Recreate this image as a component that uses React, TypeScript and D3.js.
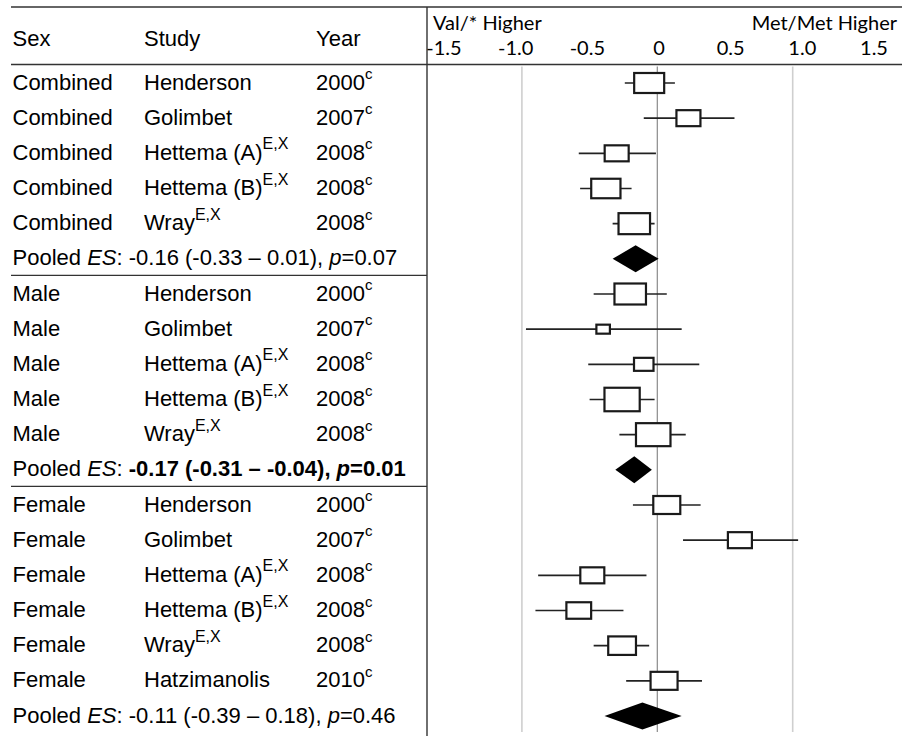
import React from 'react';
import * as d3 from 'd3';

// ---- data ----
const groupNames = ['Combined', 'Male', 'Female'];
const groupSizes = [5, 5, 6];

const rowStudy = [
  'Henderson', 'Golimbet', 'Hettema (A)', 'Hettema (B)', 'Wray',
  'Henderson', 'Golimbet', 'Hettema (A)', 'Hettema (B)', 'Wray',
  'Henderson', 'Golimbet', 'Hettema (A)', 'Hettema (B)', 'Wray', 'Hatzimanolis',
];
const rowStudySup = [
  '', '', 'E,X', 'E,X', 'E,X',
  '', '', 'E,X', 'E,X', 'E,X',
  '', '', 'E,X', 'E,X', 'E,X', '',
];
const rowYear = [
  '2000', '2007', '2008', '2008', '2008',
  '2000', '2007', '2008', '2008', '2008',
  '2000', '2007', '2008', '2008', '2008', '2010',
];
const rowYearSup = 'c';
const rowES = [
  -0.06, 0.23, -0.30, -0.38, -0.17,
  -0.20, -0.40, -0.10, -0.26, -0.03,
  0.07, 0.61, -0.48, -0.58, -0.26, 0.05,
];
const rowLo = [
  -0.24, -0.10, -0.58, -0.57, -0.33,
  -0.47, -0.97, -0.51, -0.50, -0.28,
  -0.18, 0.19, -0.88, -0.90, -0.47, -0.23,
];
const rowHi = [
  0.13, 0.57, -0.01, -0.19, -0.02,
  0.07, 0.18, 0.31, -0.02, 0.21,
  0.32, 1.04, -0.08, -0.25, -0.06, 0.33,
];
const rowWeight = [
  20, 16, 16, 19.5, 21,
  21, 9, 13, 23.5, 23,
  18, 16, 16, 16.5, 18.5, 18,
];

const pooledES = [-0.16, -0.17, -0.11];
const pooledLo = [-0.33, -0.31, -0.39];
const pooledHi = [0.01, -0.04, 0.18];
const pooledP = [0.07, 0.01, 0.46];
const pooledSig = [false, true, false];

const tickValues = [-1.5, -1.0, -0.5, 0, 0.5, 1.0, 1.5];
const gridValues = [-1, 1];
const leftLabel = 'Val/* Higher';
const rightLabel = 'Met/Met Higher';
const headers = ['Sex', 'Study', 'Year'];

// ---- layout ----
const W = 902;
const H = 736;
const FONT = "'Liberation Sans', Arial, sans-serif";
const AXFONT = 'Lato, sans-serif';
const tableLeft = 11;
const border = 427;
const colX = [12.5, 144, 316];
const topLine = 7;
const headLine = 64.5;

const fmt = (v: number) => (v < 0 ? '-' : '') + Math.abs(v).toFixed(2);
const tickFmt = (v: number) => (v === 0 ? '0' : (v < 0 ? '-' : '') + Math.abs(v).toFixed(1));

export default function App() {
  const x = d3.scaleLinear().domain([0, 1]).range([657.3, 792.7]);
  const xLabel = d3.scaleLinear().domain([-1.5, 1.5]).range([444, 874]);
  const totalRows = d3.sum(groupSizes) + groupSizes.length;
  const y = d3.scaleLinear().domain([0, totalRows - 1]).range([83, 716]);
  const boxH = d3.scaleLinear().domain([0, 24]).range([0, 24]);
  const diamondH = 27;

  type Row =
    | { kind: 'study'; idx: number; r: number; sex: string }
    | { kind: 'pooled'; g: number; r: number };
  const rows: Row[] = [];
  let r = 0;
  let k = 0;
  const separators: number[] = [];
  groupSizes.forEach((n, g) => {
    for (let i = 0; i < n; i++) {
      rows.push({ kind: 'study', idx: k, r, sex: groupNames[g] });
      k++;
      r++;
    }
    rows.push({ kind: 'pooled', g, r });
    r++;
    if (g < groupSizes.length - 1) separators.push((y(r - 1) + y(r)) / 2 - 1);
  });

  const base = 6.5;
  const lineColor = '#333';

  return (
    <svg width={W} height={H} style={{ position: 'absolute', left: 0, top: 0, display: 'block', background: '#fff' }}>
      <rect x={0} y={0} width={W} height={H} fill="#fff" />
      {/* grid lines */}
      {gridValues.map((v) => (
        <line key={v} x1={x(v)} x2={x(v)} y1={headLine + 2} y2={732} stroke="#cfcfcf" strokeWidth={1.6} />
      ))}
      <line x1={x(0)} x2={x(0)} y1={headLine + 2} y2={732} stroke="#8a8a8a" strokeWidth={1.2} />

      {/* table lines */}
      <line x1={tableLeft} x2={W} y1={topLine} y2={topLine} stroke={lineColor} strokeWidth={1.4} />
      <line x1={tableLeft} x2={W} y1={headLine} y2={headLine} stroke={lineColor} strokeWidth={1.4} />
      {separators.map((s, i) => (
        <line key={i} x1={tableLeft} x2={border} y1={s} y2={s} stroke={lineColor} strokeWidth={1.4} />
      ))}
      <line x1={border} x2={border} y1={topLine} y2={H} stroke={lineColor} strokeWidth={1.4} />

      {/* headers */}
      {headers.map((h, i) => (
        <text key={h} x={colX[i]} y={46} style={{ fontFamily: FONT }} fontSize={22} fill="#000">{h}</text>
      ))}
      <text x={433} y={30} style={{ fontFamily: AXFONT }} fontSize={20} fill="#000">{leftLabel}</text>
      <text x={897} y={30} style={{ fontFamily: AXFONT }} fontSize={20} fill="#000" textAnchor="end">{rightLabel}</text>
      {tickValues.map((v) => (
        <text key={v} x={xLabel(v)} y={55} style={{ fontFamily: AXFONT }} fontSize={20} fill="#000" textAnchor="middle">{tickFmt(v)}</text>
      ))}

      {/* rows */}
      {rows.map((row) => {
        const cy = y(row.r);
        if (row.kind === 'study') {
          const i = row.idx;
          const h = boxH(rowWeight[i]);
          const w = h * 1.5;
          return (
            <g key={'s' + i}>
              <text x={colX[0]} y={cy + base} style={{ fontFamily: FONT }} fontSize={22} fill="#000">{row.sex}</text>
              <text x={colX[1]} y={cy + base} style={{ fontFamily: FONT }} fontSize={22} fill="#000">
                {rowStudy[i]}
                {rowStudySup[i] ? <tspan fontSize={16} dy={-10.5}>{rowStudySup[i]}</tspan> : null}
              </text>
              <text x={colX[2]} y={cy + base} style={{ fontFamily: FONT }} fontSize={22} fill="#000">
                {rowYear[i]}
                <tspan fontSize={15} dy={-10.5}>{rowYearSup}</tspan>
              </text>
              <line x1={x(rowLo[i])} x2={x(rowHi[i])} y1={cy} y2={cy} stroke="#222" strokeWidth={1.6} />
              <rect x={x(rowES[i]) - w / 2} y={cy - h / 2} width={w} height={h} fill="#fff" stroke="#1a1a1a" strokeWidth={2.2} />
            </g>
          );
        }
        const g = row.g;
        const sig = pooledSig[g];
        const fw = sig ? 'bold' : 'normal';
        const pts: [number, number][] = [
          [x(pooledLo[g]), cy],
          [x(pooledES[g]), cy - diamondH / 2],
          [x(pooledHi[g]), cy],
          [x(pooledES[g]), cy + diamondH / 2],
        ];
        return (
          <g key={'p' + g}>
            <text x={colX[0]} y={cy + base} style={{ fontFamily: FONT }} fontSize={22} fill="#000">
              <tspan>Pooled </tspan>
              <tspan fontStyle="italic">ES</tspan>
              <tspan>: </tspan>
              <tspan fontWeight={fw}>{`${fmt(pooledES[g])} (${fmt(pooledLo[g])} – ${fmt(pooledHi[g])}), `}</tspan>
              <tspan fontWeight={fw} fontStyle="italic">p</tspan>
              <tspan fontWeight={fw}>{`=${pooledP[g].toFixed(2)}`}</tspan>
            </text>
            <path d={d3.line()(pts) + 'Z'} fill="#000" stroke="none" />
          </g>
        );
      })}
    </svg>
  );
}
